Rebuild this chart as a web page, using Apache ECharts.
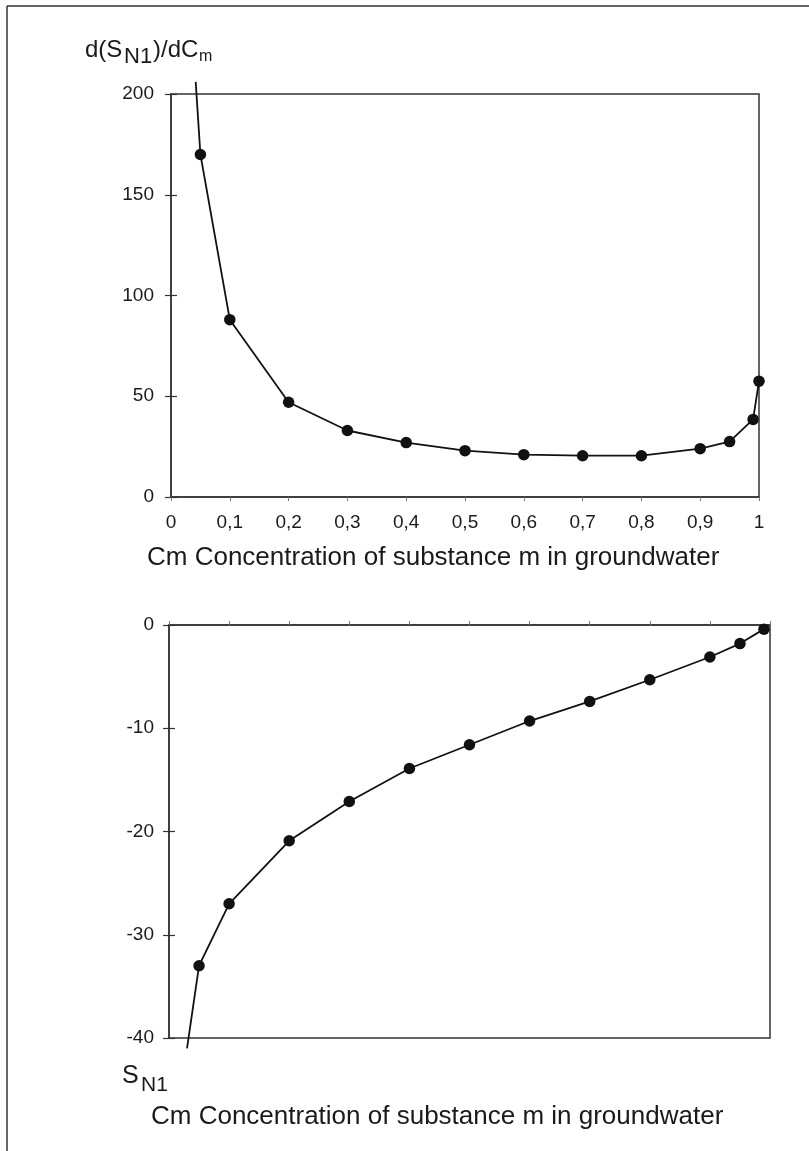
<!DOCTYPE html>
<html>
<head>
<meta charset="utf-8">
<script src="https://cdn.jsdelivr.net/npm/echarts@6/dist/echarts.min.js"></script>
<style>
  html, body { margin: 0; padding: 0; background: #ffffff; }
  #chart { width: 809px; height: 1151px; }
</style>
</head>
<body>
<div id="chart"></div>
<script>
// ---- Data ----
// Top chart: d(S_N1)/dCm versus Cm
var topCm   = [0.042, 0.05, 0.1, 0.2, 0.3, 0.4, 0.5, 0.6, 0.7, 0.8, 0.9, 0.95, 0.99, 1.0];
var topDeriv = [206, 170, 88, 47, 33, 27, 23, 21, 20.5, 20.5, 24, 27.5, 38.5, 57.5];
// Bottom chart: S_N1 versus Cm
var botCm   = [0.03, 0.05, 0.1, 0.2, 0.3, 0.4, 0.5, 0.6, 0.7, 0.8, 0.9, 0.95, 0.99];
var botS    = [-41, -33, -27, -20.9, -17.1, -13.9, -11.6, -9.3, -7.4, -5.3, -3.1, -1.8, -0.4];
// Axis ticks
var xTicks  = [0, 0.1, 0.2, 0.3, 0.4, 0.5, 0.6, 0.7, 0.8, 0.9, 1];
var xTickLabels = ['0', '0,1', '0,2', '0,3', '0,4', '0,5', '0,6', '0,7', '0,8', '0,9', '1'];
var topYTicks = [0, 50, 100, 150, 200];
var botYTicks = [-40, -30, -20, -10, 0];
var xTitle = 'Cm Concentration of substance m in groundwater';

var FONT = '"Liberation Sans", Arial, sans-serif';
var INK = '#1a1a1a';
var AX = '#333333';

function pairs(xs, ys, hideFirst) {
  return xs.map(function (x, i) {
    var item = { value: [x, ys[i]] };
    if (hideFirst && i === 0) { item.symbol = 'none'; }
    return item;
  });
}
function xLabel(v) {
  for (var i = 0; i < xTicks.length; i++) {
    if (Math.abs(xTicks[i] - v) < 1e-6) return xTickLabels[i];
  }
  return '';
}

var chart = echarts.init(document.getElementById('chart'), null, { renderer: 'canvas' });

var baseY = function (grid, min, max, inside, showLabel) {
  return {
    type: 'value', gridIndex: grid, min: min, max: max, interval: 10,
    position: 'left', offset: 0,
    axisLine: { show: !inside, onZero: false, lineStyle: { color: AX, width: 1.5 } },
    axisTick: { show: true, inside: inside, length: 6, lineStyle: { color: AX, width: 1.2 } },
    axisLabel: { show: showLabel, fontFamily: FONT, fontSize: 19, color: INK, margin: 17 },
    splitLine: { show: false }
  };
};

var y0 = baseY(0, topYTicks[0], topYTicks[topYTicks.length - 1], false, true); y0.interval = 50;
var y1 = baseY(0, topYTicks[0], topYTicks[topYTicks.length - 1], true, false); y1.interval = 50;
var y2 = baseY(1, botYTicks[0], botYTicks[botYTicks.length - 1], false, true); y2.axisLabel.margin = 15;
var y3 = baseY(1, botYTicks[0], botYTicks[botYTicks.length - 1], true, false);

var option = {
  animation: false,
  backgroundColor: '#ffffff',
  grid: [
    { left: 171, top: 94, width: 588, height: 403, show: true, borderColor: AX, borderWidth: 1.5, backgroundColor: 'transparent' },
    { left: 169, top: 625, width: 601, height: 413, show: true, borderColor: AX, borderWidth: 1.5, backgroundColor: 'transparent' }
  ],
  xAxis: [
    {
      type: 'value', gridIndex: 0, min: 0, max: 1, interval: 0.1,
      axisLine: { onZero: false, lineStyle: { color: AX, width: 1.5 } },
      axisTick: { length: 4, lineStyle: { color: '#777', width: 1 } },
      axisLabel: { formatter: xLabel, fontFamily: FONT, fontSize: 19, color: INK, margin: 16 },
      splitLine: { show: false }
    },
    {
      type: 'value', gridIndex: 1, min: 0, max: 1, interval: 0.1, position: 'top',
      axisLine: { onZero: false, lineStyle: { color: AX, width: 1.5 } },
      axisTick: { length: 4, lineStyle: { color: '#777', width: 1 } },
      axisLabel: { show: false },
      splitLine: { show: false }
    }
  ],
  yAxis: [y0, y1, y2, y3],
  series: [
    {
      type: 'line', xAxisIndex: 0, yAxisIndex: 0,
      data: pairs(topCm, topDeriv, true),
      symbol: 'circle', symbolSize: 11.5, clip: false,
      itemStyle: { color: '#111' },
      lineStyle: { color: '#111', width: 1.8 }
    },
    {
      type: 'line', xAxisIndex: 1, yAxisIndex: 2,
      data: pairs(botCm, botS, true),
      symbol: 'circle', symbolSize: 11.5, clip: false,
      itemStyle: { color: '#111' },
      lineStyle: { color: '#111', width: 1.8 }
    }
  ],
  graphic: [
    // page frame (top and left edges)
    { type: 'line', shape: { x1: 7, y1: 6, x2: 809, y2: 6 }, style: { stroke: AX, lineWidth: 1.5 } },
    { type: 'line', shape: { x1: 7, y1: 6, x2: 7, y2: 1151 }, style: { stroke: AX, lineWidth: 1.5 } },
    // top y title  d(S_N1)/dC_m
    { type: 'text', left: 85, top: 38, style: { text: 'd(S', font: '24px ' + FONT, fill: INK } },
    { type: 'text', left: 124, top: 46, style: { text: 'N1', font: '22px ' + FONT, fill: INK } },
    { type: 'text', left: 153, top: 38, style: { text: ')/dC', font: '24px ' + FONT, fill: INK } },
    { type: 'text', left: 199, top: 49, style: { text: 'm', font: '16px ' + FONT, fill: INK } },
    // top x title
    { type: 'text', left: 147, top: 545, style: { text: xTitle, font: '26px ' + FONT, fill: INK } },
    // bottom y title S_N1
    { type: 'text', left: 122, top: 1064, style: { text: 'S', font: '25px ' + FONT, fill: INK } },
    { type: 'text', left: 141, top: 1075, style: { text: 'N1', font: '21px ' + FONT, fill: INK } },
    // bottom x title
    { type: 'text', left: 151, top: 1104, style: { text: xTitle, font: '26px ' + FONT, fill: INK } }
  ]
};

chart.setOption(option);
</script>
</body>
</html>
